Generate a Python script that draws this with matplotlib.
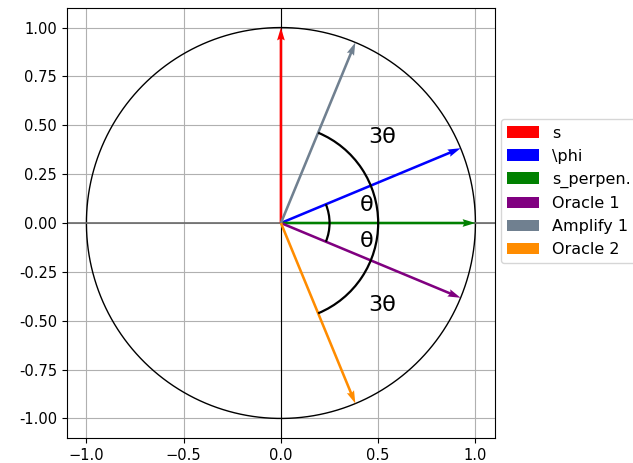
import numpy as np
import matplotlib
matplotlib.use("Agg")
import matplotlib.pyplot as plt
from matplotlib.patches import Arc

# angle between |phi> and |s_perp>
theta = np.pi / 8

vec_names = ["s", "\\phi", "s_perpen.", "Oracle 1", "Amplify 1", "Oracle 2"]
vec_angles = [np.pi / 2, theta, 0.0, -theta, 3 * theta, -3 * theta]
vec_colors = ["red", "blue", "green", "purple", "slategray", "darkorange"]

arc_radii = [0.5, 1.0]          # diameters of the angle arcs
arc_spans = [(-theta, theta), (-3 * theta, 3 * theta)]
label_texts = ["θ", "θ", "3θ", "3θ"]
label_x = [0.44, 0.44, 0.52, 0.52]
label_y = [0.09, -0.09, 0.44, -0.42]

fig = plt.figure(figsize=(6.33, 4.63), dpi=100)
ax = fig.add_axes([0.1058, 0.054, 0.676, 0.9287])

t = np.linspace(0, 2 * np.pi, 400)
ax.plot(np.cos(t), np.sin(t), color="black", lw=1.0)
ax.axhline(0, color="dimgray", lw=1.2)
ax.axvline(0, color="black", lw=0.8)

for name, ang, col in zip(vec_names, vec_angles, vec_colors):
    ax.quiver(0, 0, np.cos(ang), np.sin(ang), angles="xy", scale_units="xy",
              scale=1, color=col, label=name, width=0.006, zorder=3)

for d, (a0, a1) in zip(arc_radii, arc_spans):
    ax.add_patch(Arc((0, 0), d, d, theta1=np.degrees(a0), theta2=np.degrees(a1),
                     color="black", lw=1.6, zorder=4))

for txt, x, y in zip(label_texts, label_x, label_y):
    ax.text(x, y, txt, fontsize=16, ha="center", va="center")

ax.set_xlim(-1.1, 1.1)
ax.set_ylim(-1.1, 1.1)
ax.set_xticks([-1.0, -0.5, 0.0, 0.5, 1.0])
ax.set_yticks(np.arange(-1.0, 1.01, 0.25))
ax.yaxis.set_major_formatter(matplotlib.ticker.FormatStrFormatter("%.2f"))
ax.tick_params(labelsize=10.5)
ax.grid(True)
ax.legend(loc="upper left", bbox_to_anchor=(0.995, 0.76), fontsize=11.5)

fig.savefig("out.png")
